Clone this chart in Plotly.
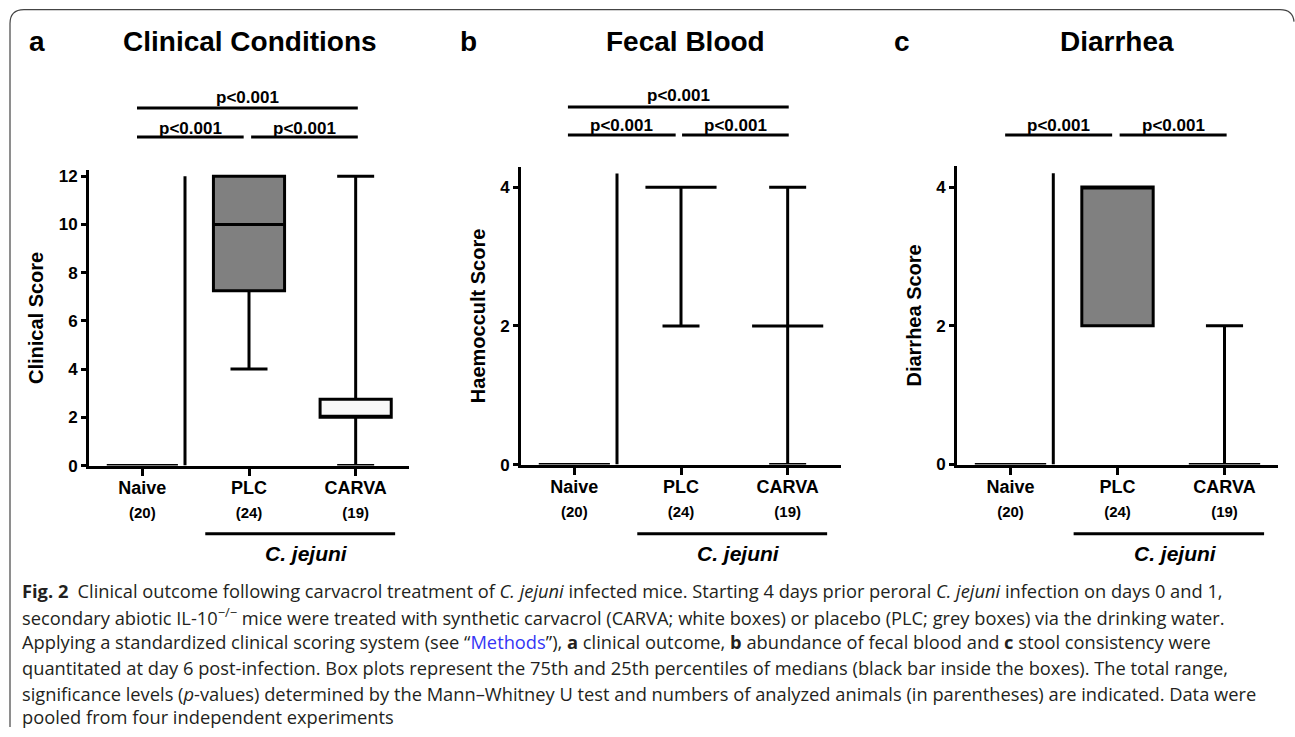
import plotly.graph_objects as go

# reference frame (pixels) used to place everything as paper fractions
REF_W, REF_H = 1295, 737
# the captured picture shows the page slightly squeezed and shifted vertically; compensate
VSCALE = 0.978
VSHIFT = 3.5

# ---------------- data ----------------
groups = ["Naive", "PLC", "CARVA"]
group_n = [20, 24, 19]
panel_letters = ["a", "b", "c"]
panel_titles = ["Clinical Conditions", "Fecal Blood", "Diarrhea"]
y_titles = ["Clinical Score", "Haemoccult Score", "Diarrhea Score"]

# box statistics per group (Naive, PLC, CARVA)
clin_min = [0, 4, 0]
clin_q1 = [0, 7.25, 2]
clin_median = [0, 10, 2]
clin_q3 = [0, 12, 2.75]
clin_max = [0, 12, 12]

blood_min = [0, 2, 0]
blood_q1 = [0, 4, 2]
blood_median = [0, 4, 2]
blood_q3 = [0, 4, 2]
blood_max = [0, 4, 4]

diar_min = [0, 2, 0]
diar_q1 = [0, 2, 0]
diar_median = [0, 4, 0]
diar_q3 = [0, 4, 0]
diar_max = [0, 4, 2]

y_top = [12.25, 4.29, 4.30]
y_tickvals = [[0, 2, 4, 6, 8, 10, 12], [0, 2, 4], [0, 2, 4]]
separator_top = [12, 4.2, 4.2]
separator_x = 0.4

# significance brackets: (x start, x end, level) ; level 1 = upper row
sig_brackets = [
    [(-0.05, 2.02, 1), (-0.05, 0.95, 0), (1.02, 2.02, 0)],
    [(-0.06, 2.01, 1), (-0.06, 0.95, 0), (1.01, 2.01, 0)],
    [(-0.05, 0.95, 0), (1.02, 2.02, 0)],
]
sig_label = "p<0.001"

group_fill = ["#ffffff", "#808080", "#f8f8f8"]

caption_lines = [
    "<b>Fig. 2</b>\u2002Clinical outcome following carvacrol treatment of <i>C. jejuni</i> infected mice. Starting 4 days prior peroral <i>C. jejuni</i> infection on days 0 and 1,",
    "secondary abiotic IL-10<sup>\u2212/\u2212</sup> mice were treated with synthetic carvacrol (CARVA; white boxes) or placebo (PLC; grey boxes) via the drinking water.",
    "Applying a standardized clinical scoring system (see \u201c<span style='color:#3535f5'>Methods</span>\u201d), <b>a</b> clinical outcome, <b>b</b> abundance of fecal blood and <b>c</b> stool consistency were",
    "quantitated at day 6 post-infection. Box plots represent the 75th and 25th percentiles of medians (black bar inside the boxes). The total range,",
    "significance levels (<i>p</i>-values) determined by the Mann\u2013Whitney U test and numbers of analyzed animals (in parentheses) are indicated. Data were",
    "pooled from four independent experiments",
]

# ---------------- layout geometry (reference pixels -> paper) ----------------
def px(v):
    return v / REF_W

def py(v):
    return min(1.0, max(0.0, 1 - ((v - VSHIFT) / VSCALE) / REF_H))

panel_x = [(89, 409), (521, 841), (957, 1278)]
panel_y = [(170, 464), (167, 463), (166, 463)]
title_x = [250, 685, 1117]
letter_x = [37, 468, 902]
sig_y = [(137, 108), (135, 107), (135, 107)]
sig_text_y = [(128, 98), (125, 96), (125, 96)]

stats = [
    (clin_min, clin_q1, clin_median, clin_q3, clin_max),
    (blood_min, blood_q1, blood_median, blood_q3, blood_max),
    (diar_min, diar_q1, diar_median, diar_q3, diar_max),
]

FONT = "Liberation Sans, Arial, Helvetica, sans-serif"
CAP_FONT = "Open Sans, Noto Sans, Liberation Sans, sans-serif"
fig = go.Figure()
shapes = []
annotations = []

for p in range(3):
    xa = "x" if p == 0 else f"x{p+1}"
    ya = "y" if p == 0 else f"y{p+1}"
    mn, q1, md, q3, mx = stats[p]
    for g in range(3):
        fig.add_trace(go.Box(
            x=[g], lowerfence=[mn[g]], q1=[q1[g]], median=[md[g]], q3=[q3[g]], upperfence=[mx[g]],
            width=0.667, whiskerwidth=0.52, fillcolor=group_fill[g],
            line=dict(color="black", width=3), boxpoints=False,
            name=groups[g], showlegend=False, xaxis=xa, yaxis=ya, hoverinfo="skip",
        ))
    ticktext = [f"<b>{groups[g]}</b><br><span style='font-size:15px'><b>({group_n[g]})</b></span>" for g in range(3)]
    xaxis = dict(
        domain=[px(panel_x[p][0]), px(panel_x[p][1])], anchor=ya,
        range=[-0.5, 2.5], tickvals=[0, 1, 2], ticktext=ticktext,
        showline=True, linecolor="black", linewidth=3, ticks="outside", ticklen=7,
        tickwidth=3, tickcolor="black", showgrid=False, zeroline=False,
        ticklabelstandoff=-3,
        tickfont=dict(family=FONT, size=18, color="black"), fixedrange=True,
    )
    yaxis = dict(
        domain=[py(panel_y[p][1]), py(panel_y[p][0])], anchor=xa,
        range=[0, y_top[p]], tickvals=y_tickvals[p],
        showline=True, linecolor="black", linewidth=3, ticks="outside", ticklen=5,
        tickwidth=3, tickcolor="black", showgrid=False, zeroline=False,
        tickfont=dict(family=FONT, size=17, color="black", weight="bold"),
        title=dict(text=f"<b>{y_titles[p]}</b>", font=dict(family=FONT, size=20, color="black"), standoff=10),
        fixedrange=True,
    )
    key = "" if p == 0 else str(p + 1)
    fig.layout["xaxis" + key] = xaxis
    fig.layout["yaxis" + key] = yaxis

    # separator line
    shapes.append(dict(type="line", xref=xa, yref=ya, x0=separator_x, x1=separator_x,
                       y0=0, y1=separator_top[p], line=dict(color="black", width=3)))
    # significance brackets
    for (x0, x1, lvl) in sig_brackets[p]:
        yl = py(sig_y[p][lvl])
        shapes.append(dict(type="line", xref=xa, yref="paper", x0=x0, x1=x1, y0=yl, y1=yl,
                           line=dict(color="black", width=3)))
        annotations.append(dict(xref=xa, yref="paper", x=(x0 + x1) / 2, y=py(sig_text_y[p][lvl]),
                                text=f"<b>{sig_label}</b>", showarrow=False,
                                xanchor="center", yanchor="middle",
                                font=dict(family=FONT, size=17, color="black")))
    # C. jejuni group bar
    shapes.append(dict(type="line", xref=xa, yref="paper", x0=0.59, x1=2.37, y0=py(532), y1=py(532),
                       line=dict(color="black", width=3)))
    annotations.append(dict(xref=xa, yref="paper", x=1.54, y=py(552), text="<b><i>C. jejuni</i></b>",
                            showarrow=False, xanchor="center", yanchor="middle",
                            font=dict(family=FONT, size=21, color="black")))
    # titles
    annotations.append(dict(xref="paper", yref="paper", x=px(title_x[p]), y=py(42),
                            text=f"<b>{panel_titles[p]}</b>", showarrow=False,
                            xanchor="center", yanchor="middle",
                            font=dict(family=FONT, size=28, color="black")))
    annotations.append(dict(xref="paper", yref="paper", x=px(letter_x[p]), y=py(42),
                            text=f"<b>{panel_letters[p]}</b>", showarrow=False,
                            xanchor="center", yanchor="middle",
                            font=dict(family=FONT, size=28, color="black")))

# caption
cap_y = [588, 614, 639, 665, 691, 714]
for i, line in enumerate(caption_lines):
    annotations.append(dict(xref="paper", yref="paper", x=px(20), y=py(cap_y[i]), text=line,
                            showarrow=False, xanchor="left", yanchor="middle",
                            font=dict(family=CAP_FONT, size=18.3, color="#231f20")))

# frame (rounded top corners, open at bottom/right)
frame = (f"M {px(10)},0 L {px(10)},{py(24)} Q {px(10)},{py(10)} {px(24)},{py(10)} "
         f"L {px(1280)},{py(10)} Q {px(1293)},{py(10)} {px(1294)},{py(22)}")
shapes.append(dict(type="path", xref="paper", yref="paper", path=frame,
                   line=dict(color="#444444", width=1.2)))

fig.update_layout(
    autosize=True, margin=dict(l=0, r=0, t=0, b=0),
    paper_bgcolor="white", plot_bgcolor="white",
    shapes=shapes, annotations=annotations, showlegend=False,
    font=dict(family=FONT, color="black"),
)

# the figure fills the whole browser window
fig.write_html(
    "out.html",
    config={"displayModeBar": False, "responsive": True},
    default_width="100vw", default_height="100vh",
    post_script=("document.body.style.margin='0';document.body.style.overflow='hidden';"
                 "Plotly.Plots.resize(document.getElementById('{plot_id}'));"),
)
